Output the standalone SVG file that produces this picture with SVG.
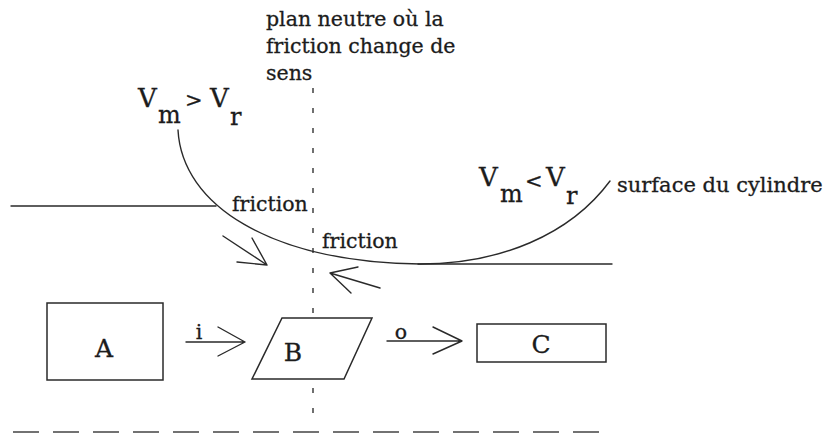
<svg xmlns="http://www.w3.org/2000/svg" width="832" height="435" viewBox="0 0 832 435">
<style>
  text { font-family: "DejaVu Serif", "Liberation Serif", serif; fill: #1c1c1c; stroke: #1c1c1c; stroke-width: 0.3; }
  .lbl { font-size: 20.5px; }
  .big { font-size: 26px; }
  .sub { font-size: 24px; }
  .op { font-size: 21px; }
  .nd { font-size: 25px; }
  .ln { fill: none; stroke: #2a2a2a; stroke-width: 1.4; stroke-linecap: round; stroke-linejoin: round; }
  .box { fill: #ffffff; stroke: #2a2a2a; stroke-width: 1.5; }
</style>
<rect width="832" height="435" fill="#ffffff"/>

<!-- neutral plane (dotted vertical) and ground dashed line -->
<line x1="313" y1="88" x2="313" y2="420" stroke="#333" stroke-width="1.4" stroke-dasharray="5 15"/>
<line x1="13" y1="432" x2="600" y2="432" stroke="#444" stroke-width="1.5" stroke-dasharray="26 14"/>

<!-- horizontal lines -->
<line class="ln" x1="11" y1="206" x2="216" y2="206" stroke="#444"/>
<line class="ln" x1="418" y1="264" x2="612" y2="264"/>

<!-- cylinder surface -->
<path class="ln" d="M178,130 C182,205 270,262 420,264 C500,264 570,235 610,181"/>

<!-- friction arrows -->
<path class="ln" d="M223,236 L267,265 M252,238 L267,265 L237,262"/>
<path class="ln" d="M380,288 L330,273 M358,267 L330,273 L351,293"/>

<!-- labels -->
<text class="lbl" x="266" y="26">plan neutre où la</text>
<text class="lbl" x="266" y="53">friction change de</text>
<text class="lbl" x="266" y="80">sens</text>

<text class="big" x="138" y="107">V<tspan class="sub" x="158" y="123">m</tspan><tspan class="op" x="185" y="107">&gt;</tspan><tspan x="210" y="107">V</tspan><tspan class="sub" x="230" y="125">r</tspan></text>

<text class="big" x="479" y="186">V<tspan class="sub" x="500" y="202">m</tspan><tspan class="op" x="525" y="188">&lt;</tspan><tspan x="546" y="186">V</tspan><tspan class="sub" x="566" y="204">r</tspan></text>

<text class="lbl" x="617" y="192" style="font-size:21px">surface du cylindre</text>
<text class="lbl" x="232" y="211">friction</text>
<text class="lbl" x="322" y="248">friction</text>

<!-- nodes -->
<g id="node-A">
  <rect class="box" x="47" y="303" width="116" height="77"/>
  <text class="nd" x="104" y="357" text-anchor="middle">A</text>
</g>
<g id="node-B">
  <polygon class="box" points="282,318 372,318 344,379 252,379" fill="none"/>
  <text class="nd" x="293" y="361" text-anchor="middle">B</text>
</g>
<g id="node-C">
  <rect class="box" x="477" y="324" width="129" height="38"/>
  <text class="nd" x="541" y="353" text-anchor="middle">C</text>
</g>

<!-- connectors -->
<g id="connectors">
  <g id="edge-A-B">
    <path class="ln" d="M186,342 L245,342 M218,327 L245,342 L218,356"/>
    <text class="lbl" x="199" y="339" text-anchor="middle">i</text>
  </g>
  <g id="edge-B-C">
    <path class="ln" d="M387,341 L462,341 M433,327 L462,341 L433,354"/>
    <text class="lbl" x="401" y="339" text-anchor="middle">o</text>
  </g>
</g>
</svg>
